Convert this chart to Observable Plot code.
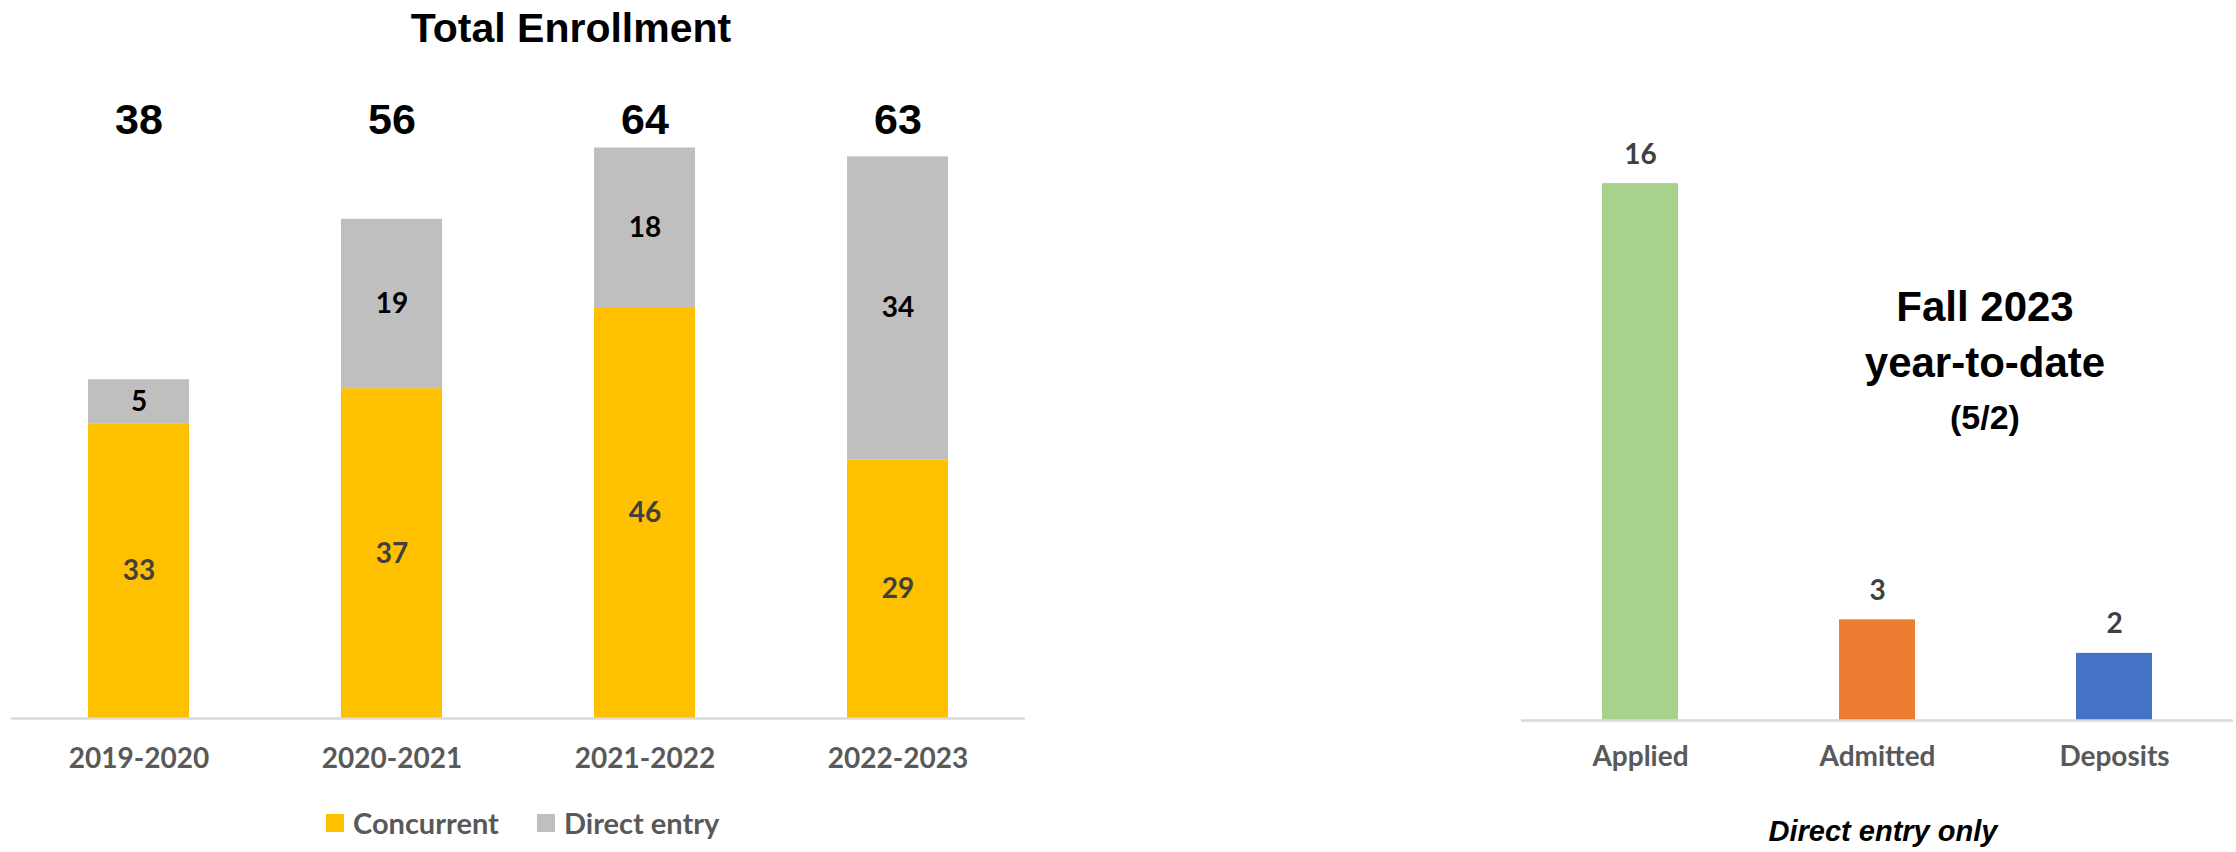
<!DOCTYPE html>
<html><head><meta charset="utf-8">
<script src="https://cdn.jsdelivr.net/npm/d3@7"></script>
<script src="https://cdn.jsdelivr.net/npm/@observablehq/plot@0.6"></script>
<style>
html,body{margin:0;padding:0;background:#fff;}
#root{position:relative;width:2236px;height:852px;overflow:hidden;background:#fff;}
.abs{position:absolute;}
.geo{font-family:"Liberation Sans",Arial,sans-serif;font-weight:bold;color:#000;line-height:1;white-space:nowrap;text-align:center;}
.leg{font-family:Lato,"Liberation Sans",sans-serif;font-weight:bold;font-size:29px;color:#595959;line-height:1;white-space:nowrap;}
</style></head><body><div id="root"></div>
<script>
// ---- Left chart data ----
const years = ["2019-2020", "2020-2021", "2021-2022", "2022-2023"];
const seriesNames = ["Concurrent", "Direct entry"];
const seriesColors = ["#FFC000", "#BFBFBF"];
const concurrent = [33, 37, 46, 29];
const directEntry = [5, 19, 18, 34];
const totals = [38, 56, 64, 63];

// ---- Right chart data ----
const stages = ["Applied", "Admitted", "Deposits"];
const stageCounts = [16, 3, 2];
const stageColors = ["#A9D18E", "#ED7D31", "#4472C4"];

const root = document.getElementById("root");

// Build tables
const stacked = [];
years.forEach((y, i) => {
  stacked.push({year: y, type: seriesNames[0], value: concurrent[i]});
  stacked.push({year: y, type: seriesNames[1], value: directEntry[i]});
});
const totalRows = years.map((y, i) => ({year: y, total: totals[i]}));
const stageRows = stages.map((s, i) => ({stage: s, count: stageCounts[i]}));

const axisFont = {fontFamily: "Lato, 'Liberation Sans', sans-serif", fontWeight: "bold", fontSize: "28px", color: "#595959", background: "#fff"};

// ---- Left plot ----
const left = Plot.plot({
  width: 1100, height: 852,
  marginLeft: 11, marginRight: 75, marginTop: 94, marginBottom: 134,
  style: axisFont,
  x: {domain: years, paddingInner: 0.6, paddingOuter: 0.3, label: null},
  y: {domain: [0, 70], axis: null},
  color: {domain: seriesNames, range: seriesColors},
  marks: [
    Plot.barY(stacked, Plot.stackY({x: "year", y: "value", fill: "type"})),
    Plot.ruleY([0], {stroke: "#D9D9D9", strokeWidth: 2.5}),
    Plot.text(stacked, Plot.stackY({x: "year", y: "value", text: d => d.type === seriesNames[0] ? d.value : "", fill: "#404040", fontSize: 28, fontWeight: "bold", fontFamily: "Lato, sans-serif"})),
    Plot.text(stacked, Plot.stackY({x: "year", y: "value", text: d => d.type === seriesNames[1] ? d.value : "", fill: "#000", fontSize: 28, fontWeight: "bold", fontFamily: "Lato, sans-serif"})),
    Plot.text(totalRows, {x: "year", text: "total", frameAnchor: "top", dy: 9, fill: "#000", fontSize: 43, fontWeight: "bold", fontFamily: "'Liberation Sans', Arial, sans-serif"}),
    Plot.axisX({tickSize: 0, tickPadding: 30, fontSize: 28, label: null})
  ]
});
const ld = document.createElement("div");
ld.className = "abs"; ld.style.left = "0px"; ld.style.top = "0px";
ld.appendChild(left);
root.appendChild(ld);

// ---- Right plot ----
const right = Plot.plot({
  width: 836, height: 852,
  marginLeft: 121, marginRight: 3, marginTop: 116, marginBottom: 132,
  style: axisFont,
  x: {domain: stages, paddingInner: 0.68, paddingOuter: 0.34, label: null},
  y: {domain: [0, 18], axis: null},
  color: {domain: stages, range: stageColors},
  marks: [
    Plot.barY(stageRows, {x: "stage", y: "count", fill: "stage"}),
    Plot.ruleY([0], {stroke: "#D9D9D9", strokeWidth: 2.5}),
    Plot.text(stageRows, {x: "stage", y: "count", text: "count", dy: -29, fill: "#404040", fontSize: 28, fontWeight: "bold", fontFamily: "Lato, sans-serif"}),
    Plot.axisX({tickSize: 0, tickPadding: 26, fontSize: 28, label: null})
  ]
});
const rd = document.createElement("div");
rd.className = "abs"; rd.style.left = "1400px"; rd.style.top = "0px";
rd.appendChild(right);
root.appendChild(rd);

// ---- Text annotations ----
function addText(txt, cx, top, size, extra) {
  const d = document.createElement("div");
  d.className = "abs geo";
  d.textContent = txt;
  d.style.left = (cx - 300) + "px";
  d.style.width = "600px";
  d.style.top = top + "px";
  d.style.fontSize = size + "px";
  if (extra) Object.assign(d.style, extra);
  root.appendChild(d);
}
addText("Total Enrollment", 571, 8, 41);
addText("Fall 2023", 1985, 286, 42);
addText("year-to-date", 1985, 342, 42);
addText("(5/2)", 1985, 400, 34);
addText("Direct entry only", 1883, 817, 29, {fontStyle: "italic"});

// ---- Legend ----
const legPos = [326, 537];
seriesNames.forEach((name, i) => {
  const sw = document.createElement("div");
  sw.className = "abs";
  Object.assign(sw.style, {left: legPos[i] + "px", top: "814px", width: "18px", height: "18px", background: seriesColors[i]});
  root.appendChild(sw);
  const t = document.createElement("div");
  t.className = "abs leg";
  t.textContent = name;
  Object.assign(t.style, {left: (legPos[i] + 27) + "px", top: "808px"});
  root.appendChild(t);
});
</script></body></html>
